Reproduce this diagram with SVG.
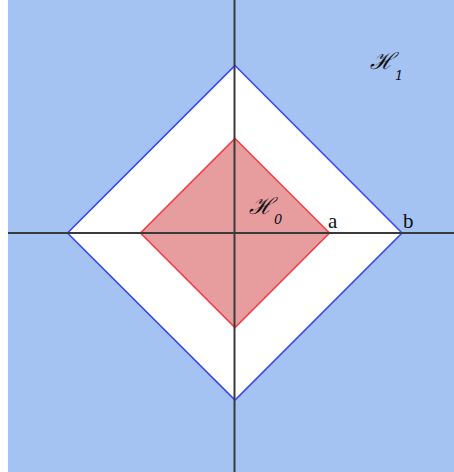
<svg xmlns="http://www.w3.org/2000/svg" width="454" height="472" viewBox="0 0 454 472">
<style>
.lbl{font-family:"Liberation Serif","DejaVu Serif",serif;fill:#111}
.cal{font-family:"DejaVu Serif","Liberation Serif",serif;font-style:italic;fill:#111}
.axis{stroke:#3a3a3a;stroke-width:2;fill:none}
</style>
<rect x="0" y="0" width="454" height="472" fill="#ffffff"/>
<g id="H1-region">
<rect x="8" y="0" width="446" height="472" fill="#a4c2f2"/>
</g>
<g id="outer-diamond">
<polygon points="235,65.5 402,233 235,400 67.5,233" fill="#ffffff" stroke="#3b48f5" stroke-width="1.6"/>
</g>
<g id="inner-diamond">
<polygon points="235,138.5 329.5,233 235,327.5 140.5,233" fill="#e79c9e" stroke="#f0414a" stroke-width="1.6"/>
</g>
<g id="connectors">
<line class="axis" x1="8" y1="233" x2="454" y2="233"/>
<line class="axis" x1="234.5" y1="0" x2="234.5" y2="472"/>
</g>
<g id="label-H0">
<text class="cal" x="249" y="214" font-size="23">ℋ</text>
<text class="cal" x="274" y="224" font-size="13">0</text>
</g>
<g id="label-H1">
<text class="cal" x="370" y="69" font-size="23">ℋ</text>
<text class="cal" x="395" y="80" font-size="13">1</text>
</g>
<g id="label-a"><text class="lbl" x="328" y="228" font-size="21">a</text></g>
<g id="label-b"><text class="lbl" x="403" y="228" font-size="21">b</text></g>
</svg>
